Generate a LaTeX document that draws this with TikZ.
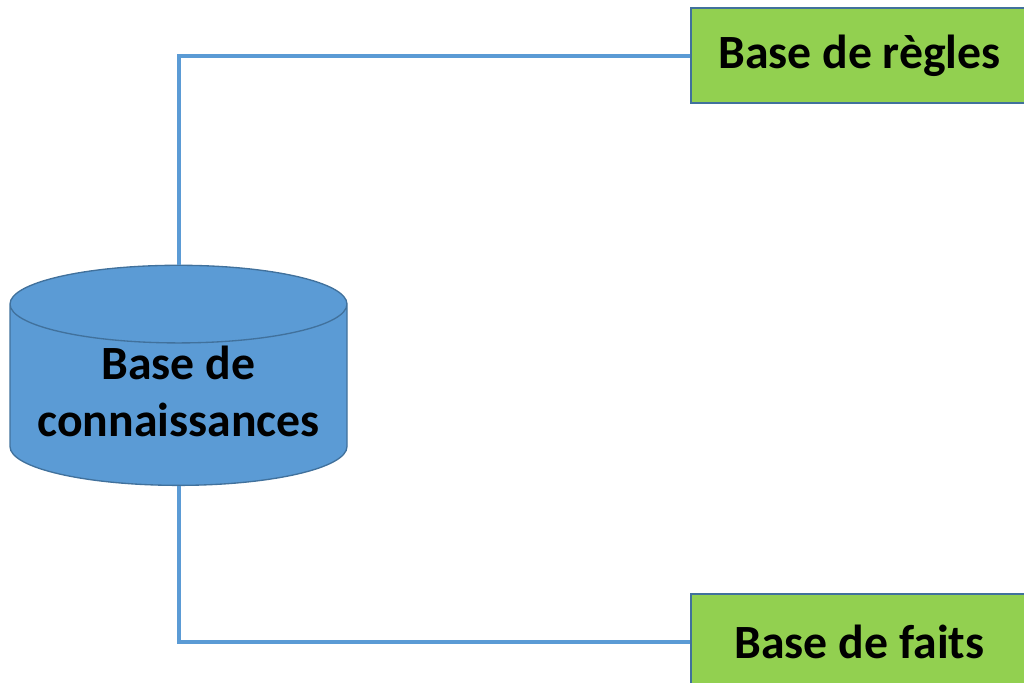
\documentclass[tikz,border=0pt]{standalone}
\usepackage{fontspec}
\setmainfont{Carlito}
\usetikzlibrary{shapes.geometric}
\definecolor{kbblue}{HTML}{5B9BD5}
\definecolor{kbedge}{HTML}{41719C}
\definecolor{kbgreen}{HTML}{92D050}
\tikzset{
    basebox/.style={draw=kbedge,line width=1pt,fill=kbgreen,minimum width=252.75pt,minimum height=71.25pt,
        font=\fontsize{35.8}{43}\selectfont\bfseries},
    kbcyl/.style={cylinder,shape border rotate=90,aspect=0.27,draw=kbedge,line width=1pt,fill=kbblue,
        minimum width=252.75pt,minimum height=162.75pt,align=center,inner sep=2pt,
        font=\fontsize{35.8}{42.75}\selectfont\bfseries},
    link/.style={draw=kbblue,line width=3pt}
}
\begin{document}
\begin{tikzpicture}[x=0.75pt,y=-0.75pt]
    \useasboundingbox (0,0) rectangle (1024,682);
    \node[kbcyl] (kb) at (178.5,398.5) {Base de\\connaissances\rule[-10.5pt]{0pt}{1pt}};
    \node[basebox] (regles) at (859.5,55.5) {Base de règles};
    \node[basebox] (faits) at (859.5,641.5) {Base de faits};

    \draw[link] (kb.top) |- (regles.west);
    \draw[link] (kb.bottom) |- (faits.west);
\end{tikzpicture}
\end{document}
